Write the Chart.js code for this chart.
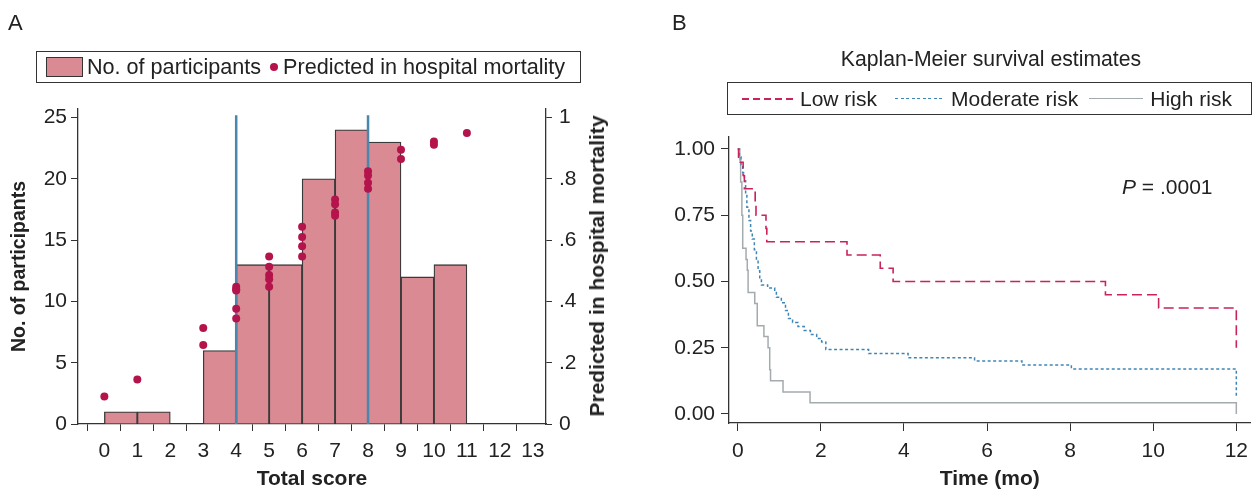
<!DOCTYPE html>
<html lang="en">
<head>
  <meta charset="UTF-8" />
  <title>Score histogram and Kaplan-Meier curves</title>
  <script src="https://cdn.jsdelivr.net/npm/chart.js"></script>
  <style>
    body { margin: 0; width: 1256px; height: 490px; position: relative; background: #fff;
           font-family: 'Liberation Sans', Arial, sans-serif; color: #222; overflow: hidden; }
    canvas { position: absolute; top: 0; }
    .lbl { position: absolute; font-size: 22px; white-space: nowrap; }
    .legend { position: absolute; box-sizing: border-box; border: 1.5px solid #333; display: flex;
              align-items: center; font-size: 21px; white-space: nowrap; }
    .swatch { width: 35px; height: 18px; background: #d98a93; border: 1.5px solid #333; margin: 0 4px 0 0; }
    .dot { width: 8px; height: 8px; border-radius: 50%; background: #b5134c; margin: 0 5px 0 9px; }
    .ln { height: 2px; margin: 0 7px 0 0; }
    .ytitle { position: absolute; font-weight: bold; font-size: 21px; white-space: nowrap;
              transform: translate(-50%, -50%) rotate(-90deg); }
  </style>
</head>
<body>
  <canvas id="chartA" width="630" height="490" style="left:0"></canvas>
  <canvas id="chartB" width="626" height="490" style="left:630px"></canvas>

  <div class="lbl" style="left:8px;top:10px">A</div>
  <div class="lbl" style="left:672px;top:10px">B</div>

  <div class="legend" style="left:36px;top:51px;width:545px;height:32px;padding-left:9px;font-size:21.6px">
    <div class="swatch"></div>No. of participants<div class="dot"></div>Predicted in hospital mortality
  </div>
  <div class="ytitle" style="left:597px;top:266px">Predicted in hospital mortality</div>

  <div class="lbl" style="left:991px;top:47px;font-size:21.2px;transform:translateX(-50%)">Kaplan-Meier survival estimates</div>
  <div class="legend" style="left:727px;top:82px;width:525px;height:33px;padding-left:14px">
    <div class="ln" style="width:53px;margin-right:5px;background:repeating-linear-gradient(90deg,#c9235a 0 7px,transparent 7px 11px)"></div>Low risk
    <div class="ln" style="width:49px;margin-left:18px;height:1.5px;background:repeating-linear-gradient(90deg,#3f86b6 0 3px,transparent 3px 5.5px)"></div>Moderate risk
    <div class="ln" style="width:54px;margin-left:11px;height:1.5px;background:#a3abae"></div>High risk
  </div>

  <div class="lbl" style="left:1122px;top:175px;font-size:21px"><i>P</i> = .0001</div>

  <script>
    // Panel A: histogram of total score + predicted mortality
    const scores = [0, 1, 3, 4, 5, 6, 7, 8, 9, 10];
    const participants = [1, 1, 6, 13, 13, 20, 24, 23, 12, 13];
    const scoreTicks = [0, 1, 2, 3, 4, 5, 6, 7, 8, 9, 10, 11, 12, 13];
    const countTicks = [0, 5, 10, 15, 20, 25];
    const mortalityTicks = [0, 0.2, 0.4, 0.6, 0.8, 1];
    const cutoffScores = [4, 8];
    const predScore = [0, 1, 3, 3, 4, 4, 4, 4, 4, 5, 5, 5, 5, 5, 6, 6, 6, 6, 7, 7, 7, 7, 8, 8, 8, 8, 9, 9, 10, 10, 11];
    const predMortality = [0.09, 0.145, 0.313, 0.258, 0.448, 0.440, 0.436, 0.376, 0.344,
      0.547, 0.513, 0.486, 0.472, 0.448, 0.644, 0.610, 0.580, 0.547,
      0.733, 0.717, 0.690, 0.680, 0.825, 0.811, 0.787, 0.768, 0.895, 0.865, 0.922, 0.911, 0.950];

    // Panel B: Kaplan-Meier estimates (time in months, survival)
    const lowT = [0, 0.02, 0.13, 0.16, 0.42, 0.44, 0.68, 0.70, 2.63, 3.43, 3.74, 8.85, 10.13, 12];
    const lowS = [1, 0.95, 0.90, 0.85, 0.80, 0.75, 0.70, 0.65, 0.60, 0.55, 0.50, 0.45, 0.40, 0.25];
    const modT = [0, 0.04, 0.08, 0.12, 0.16, 0.19, 0.22, 0.27, 0.31, 0.35, 0.40, 0.45, 0.49, 0.53, 0.57,
      0.72, 0.89, 0.93, 1.05, 1.15, 1.22, 1.32, 1.45, 1.60, 1.75, 1.90, 2.02, 2.12, 3.15, 4.10, 5.70, 6.84, 8.03, 12];
    const modS = [1, 0.97, 0.94, 0.91, 0.88, 0.83, 0.78, 0.73, 0.69, 0.66, 0.62, 0.58, 0.54, 0.51, 0.487,
      0.475, 0.467, 0.44, 0.42, 0.39, 0.36, 0.345, 0.33, 0.315, 0.30, 0.285, 0.272, 0.243, 0.228, 0.212, 0.20, 0.185, 0.17, 0.065];
    const highT = [0, 0.05, 0.07, 0.10, 0.12, 0.20, 0.23, 0.25, 0.41, 0.47, 0.63, 0.73, 0.77, 0.79, 1.09, 1.74, 12];
    const highS = [1, 0.958, 0.875, 0.75, 0.625, 0.583, 0.542, 0.458, 0.417, 0.333, 0.292, 0.25, 0.167, 0.125, 0.083, 0.042, 0];
    const timeTicks = [0, 2, 4, 6, 8, 10, 12];
    const survTicks = [0, 0.25, 0.5, 0.75, 1];

    const axisColor = '#333';
    const family = "'Liberation Sans', Arial, sans-serif";
    const tickFont = { family: family, size: 21 };
    const xTitleFont = { family: family, size: 21, weight: 'bold', lineHeight: 1 };
    const yTitleFont = { family: family, size: 19.5, weight: 'bold', lineHeight: 1 };
    const pairs = (xs, ys) => xs.map((x, i) => ({ x: x, y: ys[i] }));
    const setTicks = list => scale => { scale.ticks = list.map(v => ({ value: v })); };
    const fixed = (w, h) => scale => { if (w != null) scale.width = w; if (h != null) scale.height = h; };

    new Chart(document.getElementById('chartA'), {
      type: 'bar',
      data: {
        datasets: [
          {
            type: 'scatter', order: 0, yAxisID: 'y2',
            data: pairs(predScore, predMortality),
            pointRadius: 4, pointBackgroundColor: '#b5134c', pointBorderWidth: 0
          },
          ...cutoffScores.map(c => ({
            type: 'line', order: 1, yAxisID: 'y',
            data: [{ x: c, y: 0 }, { x: c, y: 25.2 }],
            borderColor: '#4a87ad', borderWidth: 2.5, pointRadius: 0
          })),
          {
            type: 'bar', order: 2, yAxisID: 'y',
            data: scores.map((s, i) => ({ x: s + 0.5, y: participants[i] })),
            backgroundColor: '#d98a93', borderColor: '#3a3a3a', borderWidth: 1.3,
            barPercentage: 1, categoryPercentage: 1
          }
        ]
      },
      options: {
        responsive: false, animation: false, events: [],
        layout: { padding: { top: 109, left: 0, right: 0, bottom: 0 } },
        plugins: { legend: { display: false }, tooltip: { enabled: false } },
        scales: {
          x: {
            type: 'linear', min: -0.8, max: 13.4, offset: false,
            afterBuildTicks: setTicks(scoreTicks), afterFit: fixed(null, 66),
            grid: { drawOnChartArea: false, tickLength: 7, color: axisColor },
            border: { color: axisColor, width: 1.3 },
            ticks: { font: tickFont, color: '#222', padding: 8, maxRotation: 0 },
            title: { display: true, text: 'Total score', font: xTitleFont, color: '#222', padding: { top: 0, bottom: 0 } }
          },
          y: {
            position: 'left', min: 0, max: 25.7,
            afterBuildTicks: setTicks(countTicks), afterFit: fixed(78, null),
            grid: { drawOnChartArea: false, tickLength: 7, color: axisColor },
            border: { color: axisColor, width: 1.3 },
            ticks: { font: tickFont, color: '#222', padding: 4 },
            title: { display: true, text: 'No. of participants', font: yTitleFont, color: '#222', padding: { top: 10, bottom: 0 } }
          },
          y2: {
            position: 'right', min: 0, max: 1.028,
            afterBuildTicks: setTicks(mortalityTicks), afterFit: fixed(84, null),
            grid: { drawOnChartArea: false, tickLength: 6, color: axisColor },
            border: { color: axisColor, width: 1.3 },
            ticks: { font: tickFont, color: '#222', padding: 7,
                     callback: v => (v === 0 || v === 1) ? String(v) : String(v).replace(/^0/, '') }
          }
        }
      }
    });

    new Chart(document.getElementById('chartB'), {
      type: 'line',
      data: {
        datasets: [
          { data: pairs(lowT, lowS), stepped: true, borderColor: '#c9235a', borderWidth: 1.6, borderDash: [10, 5], pointRadius: 0 },
          { data: pairs(modT, modS), stepped: true, borderColor: '#3f86b6', borderWidth: 1.5, borderDash: [3, 2.5], pointRadius: 0 },
          { data: pairs(highT, highS), stepped: true, borderColor: '#a3abae', borderWidth: 1.5, pointRadius: 0 }
        ]
      },
      options: {
        responsive: false, animation: false, events: [],
        layout: { padding: { top: 137, left: 0, right: 0, bottom: 0 } },
        plugins: { legend: { display: false }, tooltip: { enabled: false } },
        scales: {
          x: {
            type: 'linear', min: -0.21, max: 12.34,
            afterBuildTicks: setTicks(timeTicks), afterFit: fixed(null, 67),
            grid: { drawOnChartArea: false, tickLength: 8, color: axisColor },
            border: { color: axisColor, width: 1.3 },
            ticks: { font: tickFont, color: '#222', padding: 8, maxRotation: 0 },
            title: { display: true, text: 'Time (mo)', font: xTitleFont, color: '#222', padding: { top: 0, bottom: 0 } }
          },
          y: {
            min: -0.034, max: 1.045,
            afterBuildTicks: setTicks(survTicks), afterFit: fixed(99, null),
            grid: { drawOnChartArea: false, tickLength: 8, color: axisColor },
            border: { color: axisColor, width: 1.3 },
            ticks: { font: tickFont, color: '#222', padding: 6, callback: v => v.toFixed(2) }
          }
        }
      }
    });
  </script>
</body>
</html>
